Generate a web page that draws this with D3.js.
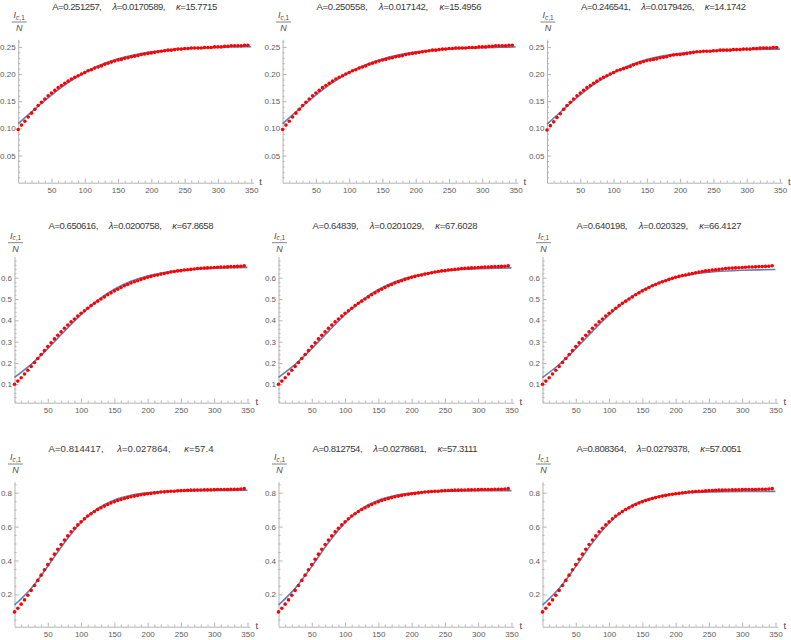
<!DOCTYPE html>
<html>
<head>
<meta charset="utf-8">
<script src="https://cdn.jsdelivr.net/npm/d3@7"></script>
<style>
  body { margin: 0; background: #fff; }
  svg { display: block; font-family: "Liberation Sans", Arial, sans-serif; }
  .axis .tick text { fill: #5c5c5c; font-size: 8px; font-family: "Liberation Sans", Arial, sans-serif; }
  .axis path, .axis line { stroke: #b4b4b4; }
</style>
</head>
<body>
<svg id="chart" width="791" height="640"></svg>
<script>
// sampling days of the observed series (red points)
const timeDays = [0, 5, 10, 15, 20, 25, 30, 35, 40, 45, 50, 55, 60, 65, 70, 75, 80, 85, 90, 95,
  100, 105, 110, 115, 120, 125, 130, 135, 140, 145, 150, 155, 160, 165, 170, 175, 180, 185, 190, 195,
  200, 205, 210, 215, 220, 225, 230, 235, 240, 245, 250, 255, 260, 265, 270, 275, 280, 285, 290, 295,
  300, 305, 310, 315, 320, 325, 330, 335, 340, 345];

const observedRow1 = [0.098, 0.106, 0.113, 0.121, 0.128, 0.135, 0.142, 0.148, 0.154, 0.160,
  0.165, 0.170, 0.175, 0.179, 0.183, 0.187, 0.191, 0.194, 0.197, 0.200,
  0.203, 0.206, 0.208, 0.211, 0.213, 0.215, 0.218, 0.220, 0.222, 0.224,
  0.226, 0.227, 0.229, 0.230, 0.232, 0.233, 0.234, 0.236, 0.237, 0.238,
  0.239, 0.240, 0.241, 0.242, 0.243, 0.244, 0.244, 0.245, 0.246, 0.246,
  0.247, 0.247, 0.248, 0.248, 0.248, 0.248, 0.249, 0.249, 0.249, 0.250,
  0.250, 0.250, 0.251, 0.251, 0.252, 0.252, 0.252, 0.252, 0.253, 0.253];
const observedRow1Right = [0.097, 0.105, 0.112, 0.120, 0.127, 0.135, 0.142, 0.148, 0.154, 0.160,
  0.165, 0.170, 0.175, 0.179, 0.183, 0.187, 0.191, 0.194, 0.197, 0.200,
  0.203, 0.206, 0.208, 0.210, 0.212, 0.214, 0.217, 0.219, 0.221, 0.223,
  0.225, 0.226, 0.227, 0.228, 0.230, 0.231, 0.232, 0.234, 0.235, 0.236,
  0.236, 0.237, 0.238, 0.239, 0.240, 0.241, 0.241, 0.242, 0.242, 0.242,
  0.243, 0.243, 0.244, 0.244, 0.244, 0.244, 0.245, 0.245, 0.245, 0.246,
  0.246, 0.246, 0.247, 0.247, 0.248, 0.248, 0.248, 0.248, 0.249, 0.249];
const observedRow2 = [0.100, 0.115, 0.131, 0.148, 0.166, 0.184, 0.202, 0.221, 0.240, 0.258,
  0.277, 0.295, 0.313, 0.330, 0.346, 0.363, 0.378, 0.393, 0.406, 0.420,
  0.433, 0.445, 0.457, 0.469, 0.480, 0.490, 0.500, 0.510, 0.520, 0.529,
  0.538, 0.546, 0.554, 0.562, 0.568, 0.575, 0.581, 0.586, 0.592, 0.597,
  0.602, 0.606, 0.610, 0.613, 0.617, 0.620, 0.623, 0.627, 0.629, 0.632,
  0.633, 0.636, 0.637, 0.639, 0.641, 0.643, 0.644, 0.645, 0.646, 0.647,
  0.648, 0.649, 0.650, 0.650, 0.651, 0.652, 0.652, 0.653, 0.654, 0.656];
const observedRow3 = [0.096, 0.118, 0.142, 0.167, 0.194, 0.223, 0.252, 0.282, 0.313, 0.345,
  0.375, 0.407, 0.437, 0.466, 0.494, 0.520, 0.545, 0.569, 0.590, 0.610,
  0.628, 0.646, 0.662, 0.676, 0.689, 0.701, 0.711, 0.721, 0.730, 0.739,
  0.747, 0.754, 0.760, 0.766, 0.771, 0.776, 0.780, 0.784, 0.788, 0.791,
  0.794, 0.796, 0.799, 0.801, 0.804, 0.805, 0.807, 0.809, 0.809, 0.811,
  0.812, 0.813, 0.814, 0.815, 0.815, 0.816, 0.816, 0.817, 0.817, 0.817,
  0.818, 0.819, 0.819, 0.819, 0.819, 0.820, 0.820, 0.820, 0.822, 0.824];

// fitted curves (blue), read at every 25 days
const fitTimes = [0, 25, 50, 75, 100, 125, 150, 175, 200, 225, 250, 275, 300, 325, 350];
const fitRow1Left = [0.1088, 0.1355, 0.1613, 0.1842, 0.2030, 0.2175, 0.2282, 0.2357, 0.2409, 0.2444, 0.2467, 0.2483, 0.2493, 0.2500, 0.2504];
const fitRow1Mid = [0.1087, 0.1355, 0.1613, 0.1842, 0.2029, 0.2173, 0.2279, 0.2353, 0.2404, 0.2438, 0.2461, 0.2477, 0.2487, 0.2493, 0.2498];
const fitRow1Right = [0.1077, 0.1352, 0.1616, 0.1846, 0.2030, 0.2169, 0.2267, 0.2335, 0.2381, 0.2411, 0.2430, 0.2443, 0.2451, 0.2456, 0.2460];
const fitRow2Left = [0.1326, 0.1934, 0.2676, 0.3486, 0.4268, 0.4938, 0.5457, 0.5828, 0.6078, 0.6240, 0.6342, 0.6406, 0.6445, 0.6469, 0.6484];
const fitRow2Mid = [0.1325, 0.1933, 0.2674, 0.3483, 0.4262, 0.4929, 0.5445, 0.5813, 0.6061, 0.6221, 0.6322, 0.6385, 0.6424, 0.6447, 0.6462];
const fitRow2Right = [0.1318, 0.1928, 0.2672, 0.3480, 0.4253, 0.4910, 0.5413, 0.5768, 0.6005, 0.6157, 0.6252, 0.6311, 0.6347, 0.6369, 0.6382];
const fitRow3Left = [0.1369, 0.2349, 0.3654, 0.5051, 0.6240, 0.7069, 0.7571, 0.7848, 0.7994, 0.8069, 0.8106, 0.8125, 0.8135, 0.8140, 0.8142];
const fitRow3Mid = [0.1369, 0.2349, 0.3651, 0.5046, 0.6231, 0.7058, 0.7557, 0.7833, 0.7978, 0.8052, 0.8090, 0.8109, 0.8118, 0.8123, 0.8125];
const fitRow3Right = [0.1366, 0.2346, 0.3648, 0.5037, 0.6214, 0.7032, 0.7524, 0.7795, 0.7938, 0.8010, 0.8047, 0.8065, 0.8075, 0.8079, 0.8081];

// fit parameters shown in the panel titles
const paramA = ["0.251257", "0.250558", "0.246541", "0.650616", "0.64839", "0.640198", "0.814417", "0.812754", "0.808364"];
const paramLambda = ["0.0170589", "0.017142", "0.0179426", "0.0200758", "0.0201029", "0.020329", "0.027864", "0.0278681", "0.0279378"];
const paramKappa = ["15.7715", "15.4956", "14.1742", "67.8658", "67.6028", "66.4127", "57.4", "57.3111", "57.0051"];

const xTickLabels = [50, 100, 150, 200, 250, 300, 350];
const yTickLabels = [
  ["0.05", "0.10", "0.15", "0.20", "0.25"],
  ["0.1", "0.2", "0.3", "0.4", "0.5", "0.6"],
  ["0.2", "0.4", "0.6", "0.8"]
];

const observedByPanel = [observedRow1, observedRow1, observedRow1Right,
  observedRow2, observedRow2, observedRow2,
  observedRow3, observedRow3, observedRow3];
const fitByPanel = [fitRow1Left, fitRow1Mid, fitRow1Right,
  fitRow2Left, fitRow2Mid, fitRow2Right,
  fitRow3Left, fitRow3Mid, fitRow3Right];

// row geometry (pixels) and axis ranges
const rowLayout = [
  {left: 18.2, colStep: 264.4, yMin: 0, yMax: 0.264, bottom: 182.7, top: 39.3, minorStep: 0.01, titleY: 9.5, fracY: 22},
  {left: 14.5, colStep: 264, yMin: 0.0137, yMax: 0.6985, bottom: 402.7, top: 256.7, minorStep: 0.02, titleY: 229, fracY: 242.7},
  {left: 14.5, colStep: 264, yMin: 0.0087, yMax: 0.865, bottom: 626.7, top: 481.7, minorStep: 0.05, titleY: 452.3, fracY: 464}
];

const svg = d3.select("#chart");
svg.append("rect").attr("width", 791).attr("height", 640).attr("fill", "#fff");

const xMinor = d3.range(10, 354, 10).filter(v => v % 50 !== 0);

fitByPanel.forEach(function(fit, i) {
  const r = Math.floor(i / 3), c = i % 3, L = rowLayout[r];
  const x0 = L.left + c * L.colStep;
  const x = d3.scaleLinear().domain([0, 353.5]).range([x0, x0 + 235.3]);
  const y = d3.scaleLinear().domain([L.yMin, L.yMax]).range([L.bottom, L.top]);
  const g = svg.append("g").attr("class", "panel");

  const yMajors = yTickLabels[r].map(Number);
  const yMinor = d3.range(L.minorStep, L.yMax, L.minorStep)
    .filter(v => v >= L.yMin && !yMajors.some(m => Math.abs(m - v) < 1e-6));

  // minor ticks
  g.append("g").attr("class", "axis")
    .attr("transform", "translate(0," + L.bottom + ")")
    .call(d3.axisBottom(x).tickValues(xMinor).tickSizeInner(-2).tickSizeOuter(0).tickFormat(""))
    .call(a => a.select(".domain").remove());
  g.append("g").attr("class", "axis")
    .attr("transform", "translate(" + x0 + ",0)")
    .call(d3.axisLeft(y).tickValues(yMinor).tickSizeInner(-2).tickSizeOuter(0).tickFormat(""))
    .call(a => a.select(".domain").remove());

  // major ticks and axis lines
  g.append("g").attr("class", "axis axis--x")
    .attr("transform", "translate(0," + L.bottom + ")")
    .call(d3.axisBottom(x).tickValues(xTickLabels).tickSizeInner(-4).tickSizeOuter(0).tickPadding(5));
  g.append("g").attr("class", "axis axis--y")
    .attr("transform", "translate(" + x0 + ",0)")
    .call(d3.axisLeft(y).tickValues(yMajors).tickSizeInner(-4).tickSizeOuter(0).tickPadding(2.5)
      .tickFormat((d, k) => yTickLabels[r][k]));

  // fitted curve
  g.append("path")
    .datum(fitTimes.map((t, k) => [t, fit[k]]))
    .attr("fill", "none")
    .attr("stroke", "#5e81b5")
    .attr("stroke-width", 1.6)
    .attr("d", d3.line().curve(d3.curveMonotoneX)
      .x(d => x(d[0]))
      .y(d => y(d[1])));

  // observed points
  g.append("g").selectAll("circle")
    .data(timeDays.map((t, k) => [t, observedByPanel[i][k]]))
    .join("circle")
    .attr("cx", d => x(d[0]))
    .attr("cy", d => y(d[1]))
    .attr("r", 1.8)
    .attr("fill", "#ff0000");

  // title
  const title = g.append("text")
    .attr("x", x0 + 116.5).attr("y", L.titleY)
    .attr("text-anchor", "middle")
    .attr("textLength", 165)
    .attr("lengthAdjust", "spacing")
    .style("white-space", "pre")
    .style("font-size", "9.5px")
    .attr("fill", "#3a3a3a");
  title.append("tspan").text("A=" + paramA[i] + ",     ");
  title.append("tspan").style("font-style", "italic").text("\u03bb");
  title.append("tspan").text("=" + paramLambda[i] + ",     ");
  title.append("tspan").style("font-style", "italic").text("\u03ba");
  title.append("tspan").text("=" + paramKappa[i]);

  // y label: I_{c,1} / N
  const fx = x0 + 1;
  const num = g.append("text")
    .attr("x", fx).attr("y", L.fracY - 4)
    .attr("text-anchor", "middle")
    .style("font-size", "9px")
    .style("font-style", "italic")
    .attr("fill", "#4a4a4a");
  num.append("tspan").text("I");
  num.append("tspan").attr("dy", 1.5).style("font-size", "6.5px").text("c");
  num.append("tspan").style("font-size", "6.5px").style("font-style", "normal").text(",1");
  g.append("line")
    .attr("x1", fx - 7.5).attr("x2", fx + 7.5)
    .attr("y1", L.fracY).attr("y2", L.fracY)
    .attr("stroke", "#666").attr("stroke-width", 0.8);
  g.append("text")
    .attr("x", fx).attr("y", L.fracY + 9)
    .attr("text-anchor", "middle")
    .style("font-size", "9px")
    .style("font-style", "italic")
    .attr("fill", "#4a4a4a")
    .text("N");

  // x label
  g.append("text")
    .attr("x", x0 + 241).attr("y", L.bottom + 2)
    .style("font-size", "9.5px")
    .attr("fill", "#4a4a4a")
    .text("t");
});
</script>
</body>
</html>
